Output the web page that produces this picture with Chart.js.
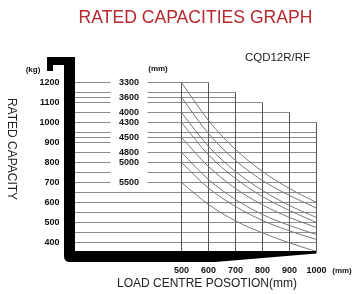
<!DOCTYPE html>
<html><head><meta charset="utf-8">
<script src="https://cdn.jsdelivr.net/npm/chart.js@4/dist/chart.umd.min.js"></script>
<style>html,body{margin:0;padding:0;background:#fff;overflow:hidden}#wrap{width:353px;height:294px;position:relative}</style>
</head><body><div id="wrap"><canvas id="c" width="353" height="294"></canvas></div>
<script>
// ---- data ----
const loadCentres = [500, 600, 700, 800, 900, 1000];          // mm
const liftHeights = ['3300', '3600', '4000', '4300', '4500', '4800', '5000', '5500']; // mm
const cap3300 = [1200, 1010, 865, 755, 670, 600];
const cap3600 = [1125, 945, 810, 710, 635, 572];
const cap4000 = [1050, 880, 755, 660, 585, 525];
const cap4300 = [1000, 838, 720, 630, 560, 500];
const cap4500 = [925, 780, 670, 588, 525, 475];
const cap4800 = [850, 715, 615, 540, 485, 440];
const cap5000 = [800, 672, 580, 510, 458, 415];
const cap5500 = [700, 590, 508, 448, 398, 355];
const capacitySeries = [cap3300, cap3600, cap4000, cap4300, cap4500, cap4800, cap5000, cap5500];
const yTicks = [400, 500, 600, 700, 800, 900, 1000, 1100, 1200];   // kg
const xTicks = [500, 600, 700, 800, 900, 1000];                     // mm
const stepCaps = [1200, 1150, 1100, 1050, 1000];  // staircase outline per 100 mm interval
const gridLoads = [1200, 1150, 1125, 1100, 1050, 1000, 950, 925, 900, 850, 800, 750, 700, 650, 600, 550, 500, 450, 400];

const SANS = "'Liberation Sans', Arial, sans-serif";
const TICKFONT = { family: SANS, size: 9, weight: 'bold' };

const datasets = capacitySeries.map((arr, k) => ({
  label: liftHeights[k],
  data: loadCentres.map((x, i) => ({ x: x, y: arr[i] })),
  borderColor: '#7a7a7a',
  borderWidth: 1,
  pointRadius: 0,
  fill: false,
  cubicInterpolationMode: 'monotone',
  clip: false
}));

const deco = {
  id: 'deco',
  beforeDatasetsDraw(chart) {
    const ctx = chart.ctx, xs = chart.scales.x, ys = chart.scales.y;
    const bottom = chart.chartArea.bottom;
    ctx.save();
    ctx.lineWidth = 1;
    ctx.strokeStyle = '#8a8a8a';
    gridLoads.forEach(v => {
      const py = ys.getPixelForValue(v);
      const n = stepCaps.filter(c => c >= v).length;
      const xr = xs.getPixelForValue(loadCentres[0] + 100 * n);
      ctx.beginPath();
      if (v >= 700) {
        ctx.moveTo(75, py); ctx.lineTo(110.5, py);
        ctx.moveTo(147.5, py); ctx.lineTo(xr, py);
      } else {
        ctx.moveTo(75, py); ctx.lineTo(xr, py);
      }
      ctx.stroke();
    });
    ctx.strokeStyle = '#555';
    xTicks.forEach((xv, i) => {
      const top = i === 0 ? stepCaps[0] : stepCaps[i - 1];
      const px = xs.getPixelForValue(xv);
      ctx.beginPath();
      ctx.moveTo(px, ys.getPixelForValue(top));
      ctx.lineTo(px, bottom);
      ctx.stroke();
    });
    ctx.restore();
  },
  afterDatasetsDraw(chart) {
    const ctx = chart.ctx, ys = chart.scales.y;
    const ca = chart.chartArea;
    ctx.save();
    ctx.fillStyle = '#000';
    ctx.beginPath();
    ctx.moveTo(47, 57); ctx.lineTo(75, 57); ctx.lineTo(75, ca.bottom);
    ctx.lineTo(ca.right, ca.bottom); ctx.lineTo(ca.right, ca.bottom + 2.5);
    ctx.lineTo(215, 262); ctx.lineTo(70, 262);
    ctx.quadraticCurveTo(64, 262, 64, 256);
    ctx.lineTo(64, 65); ctx.lineTo(53, 65); ctx.lineTo(53, 71); ctx.lineTo(47, 71);
    ctx.closePath(); ctx.fill();

    ctx.textBaseline = 'middle';
    ctx.textAlign = 'center';
    ctx.fillStyle = '#b8282e';
    ctx.font = '17.6px ' + SANS;
    ctx.fillText('RATED CAPACITIES GRAPH', 195.5, 18.5);
    ctx.fillStyle = '#222';
    ctx.font = '11.5px ' + SANS;
    ctx.fillText('CQD12R/RF', 277.5, 57.5);
    ctx.font = '12px ' + SANS;
    ctx.fillText('LOAD CENTRE POSOTION(mm)', 207, 283.5);
    ctx.save();
    ctx.translate(11, 149);
    ctx.rotate(Math.PI / 2);
    ctx.fillText('RATED CAPACITY', 0, 0);
    ctx.restore();
    ctx.fillStyle = '#111';
    ctx.font = 'bold 8px ' + SANS;
    ctx.fillText('(kg)', 33, 70);
    ctx.fillText('(mm)', 158, 69);
    ctx.fillText('(mm)', 342, 271);
    ctx.font = 'bold 9px ' + SANS;
    liftHeights.forEach((h, k) => {
      ctx.fillText(h, 129, ys.getPixelForValue(capacitySeries[k][0]));
    });
    ctx.restore();
  }
};

new Chart(document.getElementById('c'), {
  type: 'line',
  data: { datasets: datasets },
  plugins: [deco],
  options: {
    responsive: false,
    animation: false,
    devicePixelRatio: 1,
    layout: { padding: { top: 82.5, right: 36.5, left: 0, bottom: 0 } },
    plugins: { legend: { display: false }, tooltip: { enabled: false } },
    scales: {
      x: {
        type: 'linear', min: 500, max: 1000,
        grid: { display: false, drawTicks: false }, border: { display: false },
        ticks: { padding: 14.5, color: '#111', font: TICKFONT, maxRotation: 0, autoSkip: false, callback: v => String(v) },
        afterBuildTicks: s => { s.ticks = xTicks.map(v => ({ value: v })); },
        afterFit: s => { s.height = 43; s.paddingLeft = 0; s.paddingRight = 0; }
      },
      y: {
        type: 'linear', min: 357.5, max: 1200,
        grid: { display: false, drawTicks: false }, border: { display: false },
        ticks: { padding: 122, color: '#111', font: TICKFONT, autoSkip: false, callback: v => String(v) },
        afterBuildTicks: s => { s.ticks = yTicks.map(v => ({ value: v })); },
        afterFit: s => { s.width = 181.5; s.paddingTop = 0; s.paddingBottom = 0; }
      }
    }
  }
});
</script>
</body></html>
